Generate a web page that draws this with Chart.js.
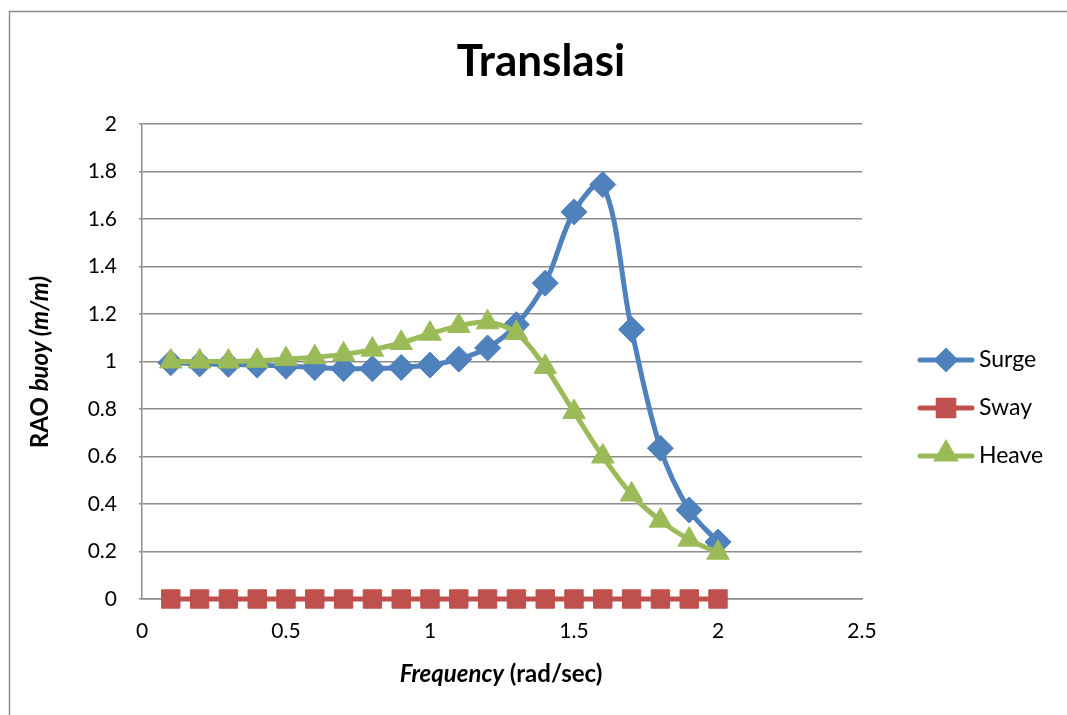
<!DOCTYPE html>
<html>
<head>
<meta charset="utf-8">
<title>Translasi</title>
<script src="https://cdn.jsdelivr.net/npm/chart.js@4"></script>
<style>
    html, body { margin: 0; padding: 0; background: #fff; overflow: hidden; }
    #wrap { width: 1067px; height: 715px; }
    canvas { display: block; }
</style>
</head>
<body>
<div id="wrap"><canvas id="raoChart" width="1067" height="715"></canvas></div>
<script>
// --- Data ---
const frequency = [0.1, 0.2, 0.3, 0.4, 0.5, 0.6, 0.7, 0.8, 0.9, 1.0,
                   1.1, 1.2, 1.3, 1.4, 1.5, 1.6, 1.7, 1.8, 1.9, 2.0];
const surge = [0.995, 0.99, 0.988, 0.985, 0.98, 0.975, 0.97, 0.97, 0.975, 0.985,
               1.01, 1.057, 1.155, 1.33, 1.63, 1.745, 1.135, 0.635, 0.375, 0.24];
const sway  = [0, 0, 0, 0, 0, 0, 0, 0, 0, 0,
               0, 0, 0, 0, 0, 0, 0, 0, 0, 0];
const heave = [1.0, 1.0, 1.0, 1.003, 1.01, 1.018, 1.03, 1.05, 1.078, 1.117,
               1.15, 1.165, 1.12, 0.977, 0.787, 0.6, 0.44, 0.33, 0.25, 0.195];
const seriesNames = ["Surge", "Sway", "Heave"];
const yTicks = [0, 0.2, 0.4, 0.6, 0.8, 1, 1.2, 1.4, 1.6, 1.8, 2];
const xTicks = [0, 0.5, 1, 1.5, 2, 2.5];

const COLORS = { Surge: "#4F81BD", Sway: "#C0504D", Heave: "#9BBB59" };
const STYLES = { Surge: "rectRot", Sway: "rect", Heave: "triangle" };
const LEGEND_RADIUS = { Surge: 9, Sway: 11, Heave: 10 };
const FONT = "Lato, 'Open Sans', sans-serif";

function toPoints(ys) {
    return frequency.map((x, i) => ({ x: x, y: ys[i] }));
}

function makeSet(name, ys, radius, order) {
    return {
        label: name,
        data: toPoints(ys),
        borderColor: COLORS[name],
        backgroundColor: COLORS[name],
        borderWidth: 5,
        pointStyle: STYLES[name],
        pointRadius: radius,
        pointBorderWidth: 1,
        pointBackgroundColor: COLORS[name],
        pointBorderColor: COLORS[name],
        tension: 0.35,
        clip: false,
        order: order
    };
}

// plain number labels: 1 not 1.0
const tickText = v => String(Number(v.toFixed(2)));

// draws text pieces with different fonts one after the other, centred on (cx, cy)
function drawMixed(ctx, parts, cx, cy, angle) {
    ctx.save();
    ctx.translate(cx, cy);
    ctx.rotate(angle);
    let total = 0;
    parts.forEach(p => { ctx.font = p.font; total += ctx.measureText(p.text).width; });
    let x = -total / 2;
    ctx.textBaseline = "middle";
    ctx.textAlign = "left";
    ctx.fillStyle = "#000";
    parts.forEach(p => {
        ctx.font = p.font;
        ctx.fillText(p.text, x, 0);
        x += ctx.measureText(p.text).width;
    });
    ctx.restore();
}

const decorPlugin = {
    id: "decor",
    beforeDraw(chart) {
        const ctx = chart.ctx;
        ctx.save();
        ctx.fillStyle = "#fff";
        ctx.fillRect(0, 0, chart.width, chart.height);
        // outer chart frame: only left and top edges are inside the picture
        ctx.strokeStyle = "#8c8c8c";
        ctx.lineWidth = 1.5;
        ctx.beginPath();
        ctx.moveTo(9.5, chart.height + 5);
        ctx.lineTo(9.5, 11.5);
        ctx.lineTo(chart.width + 5, 11.5);
        ctx.stroke();
        ctx.restore();
    },
    afterDraw(chart) {
        const ctx = chart.ctx;
        // title
        ctx.save();
        ctx.font = "bold 44px " + FONT;
        ctx.fillStyle = "#000";
        ctx.textAlign = "center";
        ctx.textBaseline = "middle";
        ctx.fillText("Translasi", 541, 62);
        ctx.restore();

        // axis titles
        drawMixed(ctx, [
            { text: "Frequency", font: "italic bold 24px " + FONT },
            { text: " (rad/sec)", font: "bold 24px " + FONT }
        ], 501, 674, 0);
        drawMixed(ctx, [
            { text: "RAO ", font: "bold 24px " + FONT },
            { text: "buoy (m/m)", font: "italic bold 24px " + FONT }
        ], 40, 362, -Math.PI / 2);

        // legend
        seriesNames.forEach((name, i) => {
            const y = 360 + i * 48;
            ctx.save();
            ctx.strokeStyle = COLORS[name];
            ctx.lineWidth = 5;
            ctx.lineCap = "round";
            ctx.beginPath();
            ctx.moveTo(920, y);
            ctx.lineTo(972, y);
            ctx.stroke();
            ctx.fillStyle = COLORS[name];
            ctx.strokeStyle = COLORS[name];
            Chart.helpers.drawPoint(ctx, { pointStyle: STYLES[name], radius: LEGEND_RADIUS[name], rotation: 0, borderWidth: 1 }, 946, name === "Heave" ? y - 2 : y);
            ctx.font = "23px " + FONT;
            ctx.fillStyle = "#000";
            ctx.textAlign = "left";
            ctx.textBaseline = "middle";
            ctx.fillText(name, 979, y);
            ctx.restore();
        });
    }
};

const chart = new Chart(document.getElementById("raoChart").getContext("2d"), {
    type: "line",
    data: {
        datasets: [
            makeSet("Surge", surge, 13, 2),
            makeSet("Sway", sway, 13, 1),
            makeSet("Heave", heave, 13, 0)
        ]
    },
    options: {
        responsive: false,
        animation: false,
        layout: { padding: { left: 0, right: 205, top: 124, bottom: 0 } },
        plugins: {
            legend: { display: false },
            title: { display: false },
            tooltip: { enabled: false }
        },
        scales: {
            x: {
                type: "linear",
                min: xTicks[0],
                max: xTicks[xTicks.length - 1],
                afterBuildTicks: axis => { axis.ticks = xTicks.map(v => ({ value: v })); },
                afterFit: axis => { axis.height = 116; },
                grid: { display: false },
                border: { display: true, color: "#8c8c8c", width: 1.5 },
                ticks: { color: "#000", font: { family: FONT, size: 21 }, padding: 12, maxRotation: 0, callback: tickText }
            },
            y: {
                type: "linear",
                min: yTicks[0],
                max: yTicks[yTicks.length - 1],
                afterBuildTicks: axis => { axis.ticks = yTicks.map(v => ({ value: v })); },
                afterFit: axis => { axis.width = 142; },
                grid: { color: "#8c8c8c", lineWidth: 1.5, drawTicks: true, tickLength: 3 },
                border: { display: true, color: "#8c8c8c", width: 1.5 },
                ticks: { color: "#000", font: { family: FONT, size: 21 }, padding: 22, callback: tickText }
            }
        }
    },
    plugins: [decorPlugin]
});
</script>
</body>
</html>
